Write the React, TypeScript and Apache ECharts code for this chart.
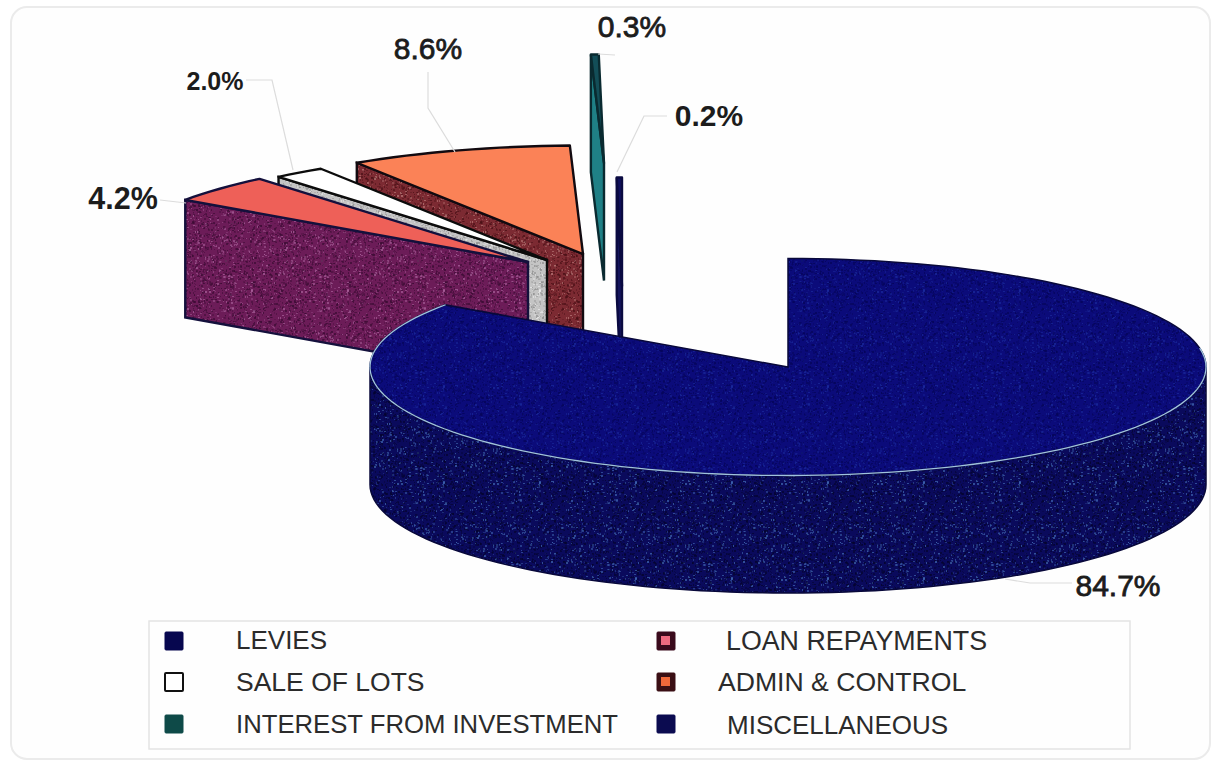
import React, { useEffect, useRef } from "react";
import * as echarts from "echarts";

const categories = ["LEVIES", "LOAN REPAYMENTS", "SALE OF LOTS", "ADMIN & CONTROL", "INTEREST FROM INVESTMENT", "MISCELLANEOUS"];
const shares = [84.7, 4.2, 2.0, 8.6, 0.3, 0.2];

const FONT = '"Liberation Sans", Arial, sans-serif';
const RX = 418;
const RY = 108.5;
const DEPTH = 117.5;
const TOTAL = shares.reduce((a, b) => a + b, 0);

// apex of each exploded slice on the picture
const apexes = [[788, 367], [528, 262], [547, 260], [583, 254], [604, 163], [622, 286]];
const topColors = ["#0b0b7c", "#ee6058", "#ffffff", "#fb8257", "#134e58", "#10105e"];
const wallColors = ["#0a0a58", "#6c1c58", "#c0c0c0", "#7c2a32", "#1f8086", "#14145c"];
const edgeColors = ["#08083a", "#14103c", "#0c0c0c", "#120a10", "#0a2a30", "#0a0a40"];
const labelPos = [[1118, 585], [123, 198], [215, 81], [428, 48], [632, 26], [709, 115]];
const labelBold = [false, true, true, false, false, true];
const labelSize = [30, 30.5, 25, 30, 30, 30];
const leaders = [
  [[1072, 583], [1030, 583], [1005, 579]],
  [[160, 200], [186, 203]],
  [[246, 80], [272, 80], [293, 170]],
  [[428, 72], [428, 108], [455, 152]],
  [[598, 54], [615, 55]],
  [[667, 116], [644, 116], [617, 172]],
];
const legendText = [[236, 640], [726, 641], [236, 682], [718, 682], [236, 724], [727, 725]];
const legendSize = [26, 26.8, 26.5, 26.6, 25.7, 26];
const legendBox = [[165, 632], [657, 632], [165, 673], [657, 673], [165, 715], [657, 715]];
const legendFill = ["#07074f", "#3a0a1c", "#ffffff", "#3a0f14", "#0e4a48", "#0b0b50"];
const legendInner = [null, "#ee6a80", null, "#f0683a", null, null];

function speckle(base: string, light: string, dark: string) {
  const size = 96;
  const c = document.createElement("canvas");
  c.width = size;
  c.height = size;
  const g = c.getContext("2d")!;
  g.fillStyle = base;
  g.fillRect(0, 0, size, size);
  let s = 12345;
  const next = () => ((s = (s * 1103515245 + 12345) & 0x7fffffff) >> 8) / 8388607;
  for (let i = 0; i < 1700; i++) {
    const x = Math.floor(next() * size);
    const y = Math.floor(next() * size);
    const t = next();
    g.fillStyle = t > 0.72 ? light : dark;
    g.globalAlpha = 0.25 + next() * 0.5;
    g.fillRect(x, y, 1 + Math.floor(next() * 2), 1 + Math.floor(next() * 2));
  }
  return { image: c.toDataURL(), repeat: "repeat", imageWidth: size, imageHeight: size };
}

function arc(cx: number, cy: number, from: number, to: number, dy = 0) {
  const pts: number[][] = [];
  const n = Math.max(2, Math.ceil(Math.abs(to - from) / 2));
  for (let i = 0; i <= n; i++) {
    const a = ((from + ((to - from) * i) / n) * Math.PI) / 180;
    pts.push([cx + RX * Math.sin(a), cy - RY * Math.cos(a) + dy]);
  }
  return pts;
}

export default function App() {
  const ref = useRef<HTMLDivElement>(null);
  useEffect(() => {
    const chart = echarts.init(ref.current!, undefined, { renderer: "svg" });
    const wallFill: any[] = [
      speckle("#0a0a5c", "#3f66b0", "#04042e"),
      speckle("#6c1c58", "#a8609a", "#3c0c34"),
      speckle("#c4c4c4", "#ececec", "#8e8e8e"),
      speckle("#7c2a32", "#b87a78", "#4a1016"),
      wallColors[4],
      wallColors[5],
    ];
    const topFill: any[] = [speckle("#0b0b7a", "#1a2a9c", "#05055a"), topColors[1], topColors[2], topColors[3], topColors[4], topColors[5]];

    const starts: number[] = [];
    shares.reduce((acc, v, i) => {
      starts[i] = acc;
      return acc + v;
    }, 0);

    const renderItem = (_: any, api: any) => {
      const i = api.value(0) as number;
      const value = api.value(1) as number;
      const from = (starts[i] / TOTAL) * 360;
      const to = ((starts[i] + value) / TOTAL) * 360;
      const [cx, cy] = apexes[i];
      const children: any[] = [];
      const edge = arc(cx, cy, from, to);
      const stroke = edgeColors[i];
      if (i === 0) {
        const front = arc(cx, cy, 90, 270);
        const bottom = arc(cx, cy, 90, 270, DEPTH).reverse();
        children.push({
          type: "polygon",
          shape: { points: front.concat(bottom) },
          style: { fill: wallFill[0], stroke, lineWidth: 1.5 },
        });
        children.push({
          type: "polygon",
          shape: { points: [[cx, cy], ...edge] },
          style: { fill: topFill[0], stroke, lineWidth: 1.5 },
        });
        children.push({
          type: "polyline",
          shape: { points: arc(cx, cy, 80, 305) },
          style: { fill: "none", stroke: "#9fc2de", lineWidth: 1.3 },
        });
      } else {
        const outer = edge[0];
        children.push({
          type: "polygon",
          shape: {
            points: [outer, [cx, cy], [cx, cy + DEPTH], [outer[0], outer[1] + DEPTH]],
          },
          style: { fill: wallFill[i], stroke, lineWidth: 2.4 },
        });
        children.push({
          type: "polygon",
          shape: { points: [[cx, cy], ...edge] },
          style: { fill: topFill[i], stroke, lineWidth: 2.4, lineJoin: "round" },
        });
      }
      children.push({
        type: "polyline",
        shape: { points: leaders[i] },
        style: { fill: "none", stroke: "#dcdcdc", lineWidth: 1.2 },
      });
      children.push({
        type: "text",
        style: {
          text: value.toFixed(1) + "%",
          x: labelPos[i][0],
          y: labelPos[i][1],
          align: "center",
          verticalAlign: "middle",
          fontFamily: FONT,
          fontSize: labelSize[i],
          fontWeight: labelBold[i] ? "bold" : "normal",
          fill: "#1c1c1c",
          stroke: labelBold[i] ? undefined : "#1c1c1c",
          lineWidth: labelBold[i] ? 0 : 0.8,
        },
      });
      return { type: "group", children };
    };

    const legendGraphics: any[] = [];
    categories.forEach((name, i) => {
      const [bx, by] = legendBox[i];
      legendGraphics.push({
        type: "rect",
        shape: { x: bx, y: by, width: 18, height: 18, r: 1 },
        style: { fill: legendFill[i], stroke: i === 2 ? "#111111" : legendFill[i], lineWidth: i === 2 ? 2 : 1 },
      });
      if (legendInner[i]) {
        legendGraphics.push({
          type: "rect",
          shape: { x: bx + 4, y: by + 4, width: 9, height: 9 },
          style: { fill: legendInner[i] },
        });
      }
      legendGraphics.push({
        type: "text",
        style: {
          text: name,
          x: legendText[i][0],
          y: legendText[i][1],
          align: "left",
          verticalAlign: "middle",
          fontFamily: FONT,
          fontSize: legendSize[i],
          fill: "#2b2b2b",
        },
      });
    });

    chart.setOption({
      animation: false,
      backgroundColor: "#ffffff",
      graphic: [
        {
          type: "rect",
          shape: { x: 11, y: 7, width: 1199, height: 752, r: 16 },
          style: { fill: "#fefefe", stroke: "#ebebeb", lineWidth: 2 },
        },
        {
          type: "rect",
          shape: { x: 149, y: 621, width: 981, height: 128 },
          style: { fill: "#fefefe", stroke: "#e4e4e4", lineWidth: 1.5 },
        },
        ...legendGraphics,
      ],
      series: [
        {
          type: "custom",
          coordinateSystem: "none",
          silent: true,
          renderItem,
          data: shares.map((v, i) => [i, v]).reverse(),
        },
      ],
    });
    return () => chart.dispose();
  }, []);
  return <div ref={ref} style={{ position: "absolute", left: 0, top: 0, width: 1214, height: 763 }} />;
}
